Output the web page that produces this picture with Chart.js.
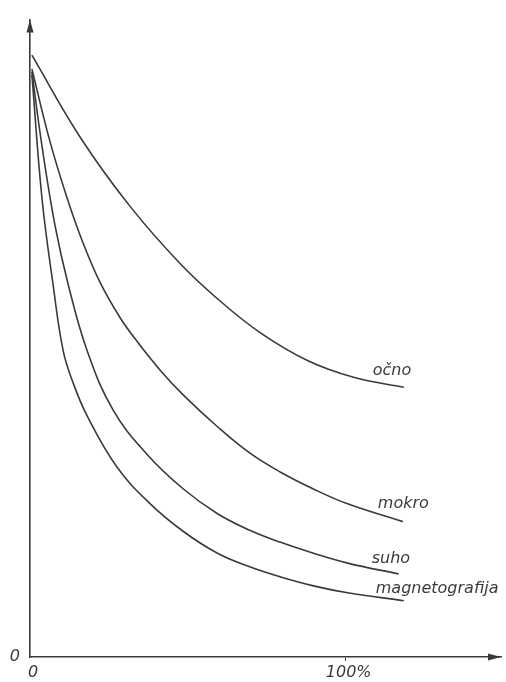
<!DOCTYPE html>
<html>
<head>
<meta charset="utf-8">
<script src="https://cdn.jsdelivr.net/npm/chart.js@4/dist/chart.umd.min.js"></script>
<style>
  html, body { margin: 0; padding: 0; background: #ffffff; }
  #c { display: block; }
</style>
</head>
<body>
<canvas id="c" width="506" height="682"></canvas>
<script>
// Series names (curve labels)
const seriesNames = ['očno', 'mokro', 'suho', 'magnetografija'];

// x values in % ; y values in arbitrary units (0 at x-axis)
const ocnoX = [0.6, 15.9, 31.7, 47.6, 60.3, 73.0, 87.9, 102.5, 118.4];
const ocnoY = [609, 526, 456, 398, 360, 328, 300, 283, 273];

const mokroX = [0.6, 6.3, 11.7, 16.8, 22.2, 28.6, 34.0, 41.3, 48.6, 59.4, 69.8, 79.4, 89.8, 100.6, 118.1];
const mokroY = [595, 522, 465, 419, 379, 343, 319, 290, 265, 233, 206, 187, 170, 155, 137];

const suhoX = [0.6, 3.8, 7.9, 12.1, 18.1, 26.3, 37.1, 48.6, 59.4, 69.8, 79.4, 89.8, 100.6, 116.8];
const suhoY = [592, 517, 437, 377, 310, 250, 205, 170, 145, 128, 116, 105, 95, 84];

const magX = [0.6, 3.8, 7.3, 10.5, 13.7, 18.1, 27.6, 38.1, 48.6, 59.4, 69.8, 79.4, 89.8, 100.6, 118.4];
const magY = [589, 464, 377, 310, 277, 244, 192, 155, 127, 105, 91, 81, 72, 65, 57];

// Tick labels
const xTickValues = [0, 100];
const xTickLabels = ['0', '100%'];
const yTickValues = [0];
const yTickLabels = ['0'];

const xMax = 149.2;
const yMax = 645;

function toPoints(xs, ys) { return xs.map((x, i) => ({ x: x, y: ys[i] })); }

const seriesX = [ocnoX, mokroX, suhoX, magX];
const seriesY = [ocnoY, mokroY, suhoY, magY];

const INK = '#3a3a3a';
const LABEL_FONT = 'italic 16px "DejaVu Sans", sans-serif';

// label offsets relative to curve end (px)
const labelOffsets = [[-31, -16], [-25, -18], [-27, -15], [-28, -12]];

const arrowPlugin = {
  id: 'arrows',
  afterDraw(chart) {
    const ctx = chart.ctx;
    const a = chart.chartArea;
    const xs = chart.scales.x, ys = chart.scales.y;
    const ox = xs.getPixelForValue(0), oy = ys.getPixelForValue(0);
    ctx.save();
    ctx.fillStyle = INK;
    // y arrow
    ctx.beginPath();
    ctx.moveTo(ox, a.top);
    ctx.lineTo(ox - 3.5, a.top + 13);
    ctx.lineTo(ox + 3.5, a.top + 13);
    ctx.closePath();
    ctx.fill();
    // x arrow
    ctx.beginPath();
    ctx.moveTo(a.right, oy);
    ctx.lineTo(a.right - 13, oy - 3.5);
    ctx.lineTo(a.right - 13, oy + 3.5);
    ctx.closePath();
    ctx.fill();
    // curve labels
    ctx.font = LABEL_FONT;
    ctx.textBaseline = 'middle';
    ctx.textAlign = 'left';
    chart.data.datasets.forEach((ds, i) => {
      const meta = chart.getDatasetMeta(i);
      const last = meta.data[meta.data.length - 1];
      const off = labelOffsets[i];
      ctx.fillText(ds.label, last.x + off[0], last.y + off[1]);
    });
    ctx.restore();
  }
};

new Chart(document.getElementById('c'), {
  type: 'line',
  data: {
    datasets: seriesNames.map((name, i) => ({
      label: name,
      data: toPoints(seriesX[i], seriesY[i]),
      borderColor: INK,
      borderWidth: 1.6,
      pointRadius: 0,
      fill: false,
      tension: 0.4
    }))
  },
  options: {
    responsive: false,
    animation: false,
    layout: { padding: { top: 12, right: 5, left: 0, bottom: 0 } },
    plugins: { legend: { display: false }, tooltip: { enabled: false } },
    scales: {
      x: {
        type: 'linear',
        min: 0,
        max: xMax,
        afterBuildTicks(scale) { scale.ticks = xTickValues.map(v => ({ value: v })); },
        afterFit(scale) { scale.height = 25; },
        ticks: {
          callback: (v) => { const k = xTickValues.indexOf(v); return k >= 0 ? xTickLabels[k] : ''; },
          color: INK,
          font: { family: '"DejaVu Sans", sans-serif', size: 16, style: 'italic' },
          padding: 2,
          labelOffset: 3,
          maxRotation: 0
        },
        grid: {
          drawOnChartArea: false,
          tickLength: 4,
          color: (c) => (c.tick && c.tick.value === 100) ? INK : 'rgba(0,0,0,0)'
        },
        border: { display: true, color: INK, width: 1.6 }
      },
      y: {
        type: 'linear',
        min: 0,
        max: yMax,
        afterBuildTicks(scale) { scale.ticks = yTickValues.map(v => ({ value: v })); },
        afterFit(scale) { scale.width = 30; },
        ticks: {
          callback: (v) => { const k = yTickValues.indexOf(v); return k >= 0 ? yTickLabels[k] : ''; },
          color: INK,
          font: { family: '"DejaVu Sans", sans-serif', size: 16, style: 'italic' },
          padding: 10
        },
        grid: { drawOnChartArea: false, drawTicks: false },
        border: { display: true, color: INK, width: 1.6 }
      }
    }
  },
  plugins: [arrowPlugin]
});
</script>
</body>
</html>
